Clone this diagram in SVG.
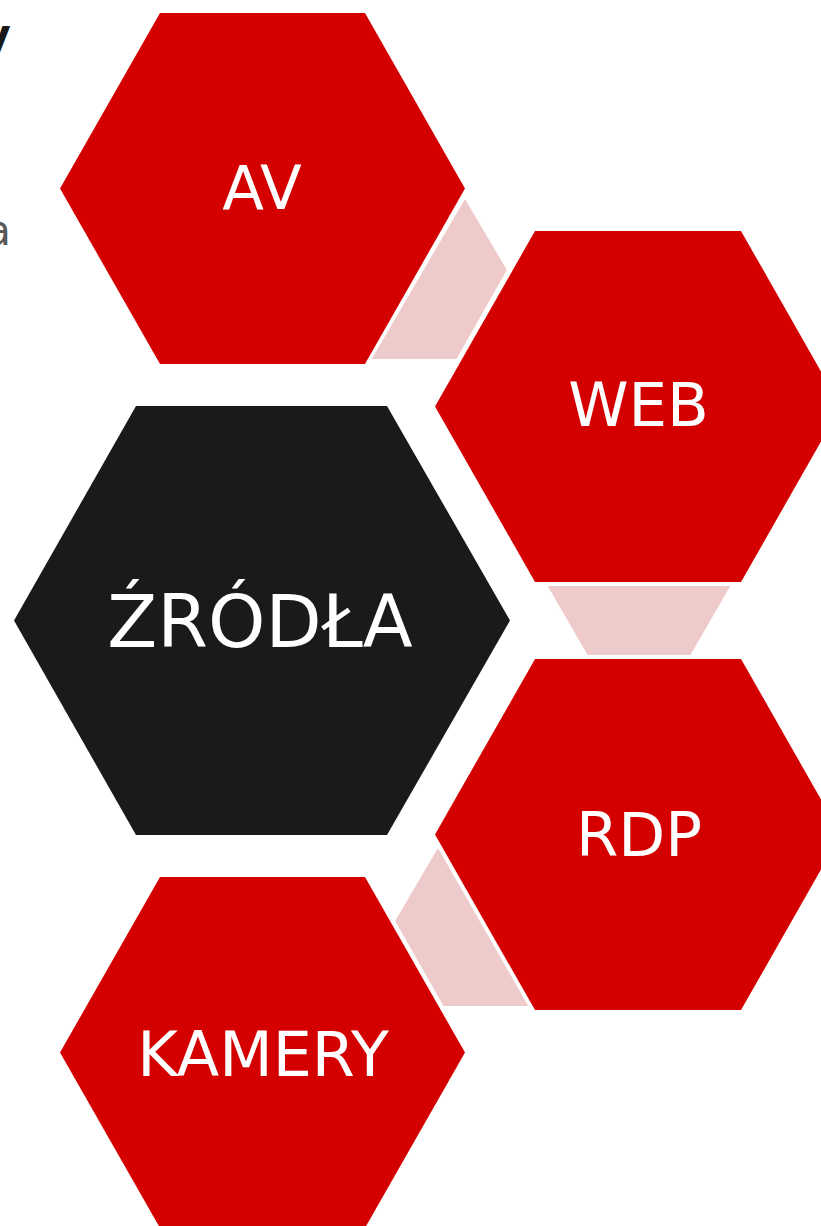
<svg xmlns="http://www.w3.org/2000/svg" width="821" height="1226" viewBox="0 0 821 1226">
<style>
.red{fill:#D40000}
.dark{fill:#1A1A1A}
.conn{fill:#EFCACA;stroke:#FFFFFF;stroke-width:2}
.lbl{fill:#FFFFFF;font-family:"DejaVu Sans",sans-serif;text-anchor:middle}
</style>
<rect width="821" height="1226" fill="#FFFFFF"/>
<text x="11" y="50" font-family="DejaVu Sans, sans-serif" font-weight="bold" font-size="44" fill="#1A1A1A" text-anchor="end">y</text>
<text x="11" y="245" font-family="DejaVu Sans, sans-serif" font-size="42" fill="#595959" text-anchor="end">a</text>
<g id="connectors">
<polygon class="conn" points="465,197 508,270 457,360 370,360"/>
<polygon class="conn" points="546,585 732,585 691,656 587,656"/>
<polygon class="conn" points="438,846 394,921 443,1007 530,1007"/>
</g>
<g id="node-av">
<polygon class="red" points="160,13 365,13 465,188.5 365,364 160,364 60,188.5"/>
<text class="lbl" x="262" y="209" font-size="61">AV</text>
</g>
<g id="node-web">
<polygon class="red" points="535,231 741,231 841,406.5 741,582 535,582 435,406.5"/>
<text class="lbl" x="638.5" y="426" font-size="61">WEB</text>
</g>
<g id="node-zrodla">
<polygon class="dark" points="136,406 387,406 510,620.5 387,835 136,835 14,620.5"/>
<text class="lbl" x="260" y="647" font-size="73">ŹRÓDŁA</text>
</g>
<g id="node-rdp">
<polygon class="red" points="535,659 741,659 841,834.5 741,1010 535,1010 435,834.5"/>
<text class="lbl" x="639" y="856" font-size="61">RDP</text>
</g>
<g id="node-kamery">
<polygon class="red" points="160,877 365,877 465,1052.5 365,1228 160,1228 60,1052.5"/>
<text class="lbl" x="263" y="1076" font-size="62">KAMERY</text>
</g>
</svg>
